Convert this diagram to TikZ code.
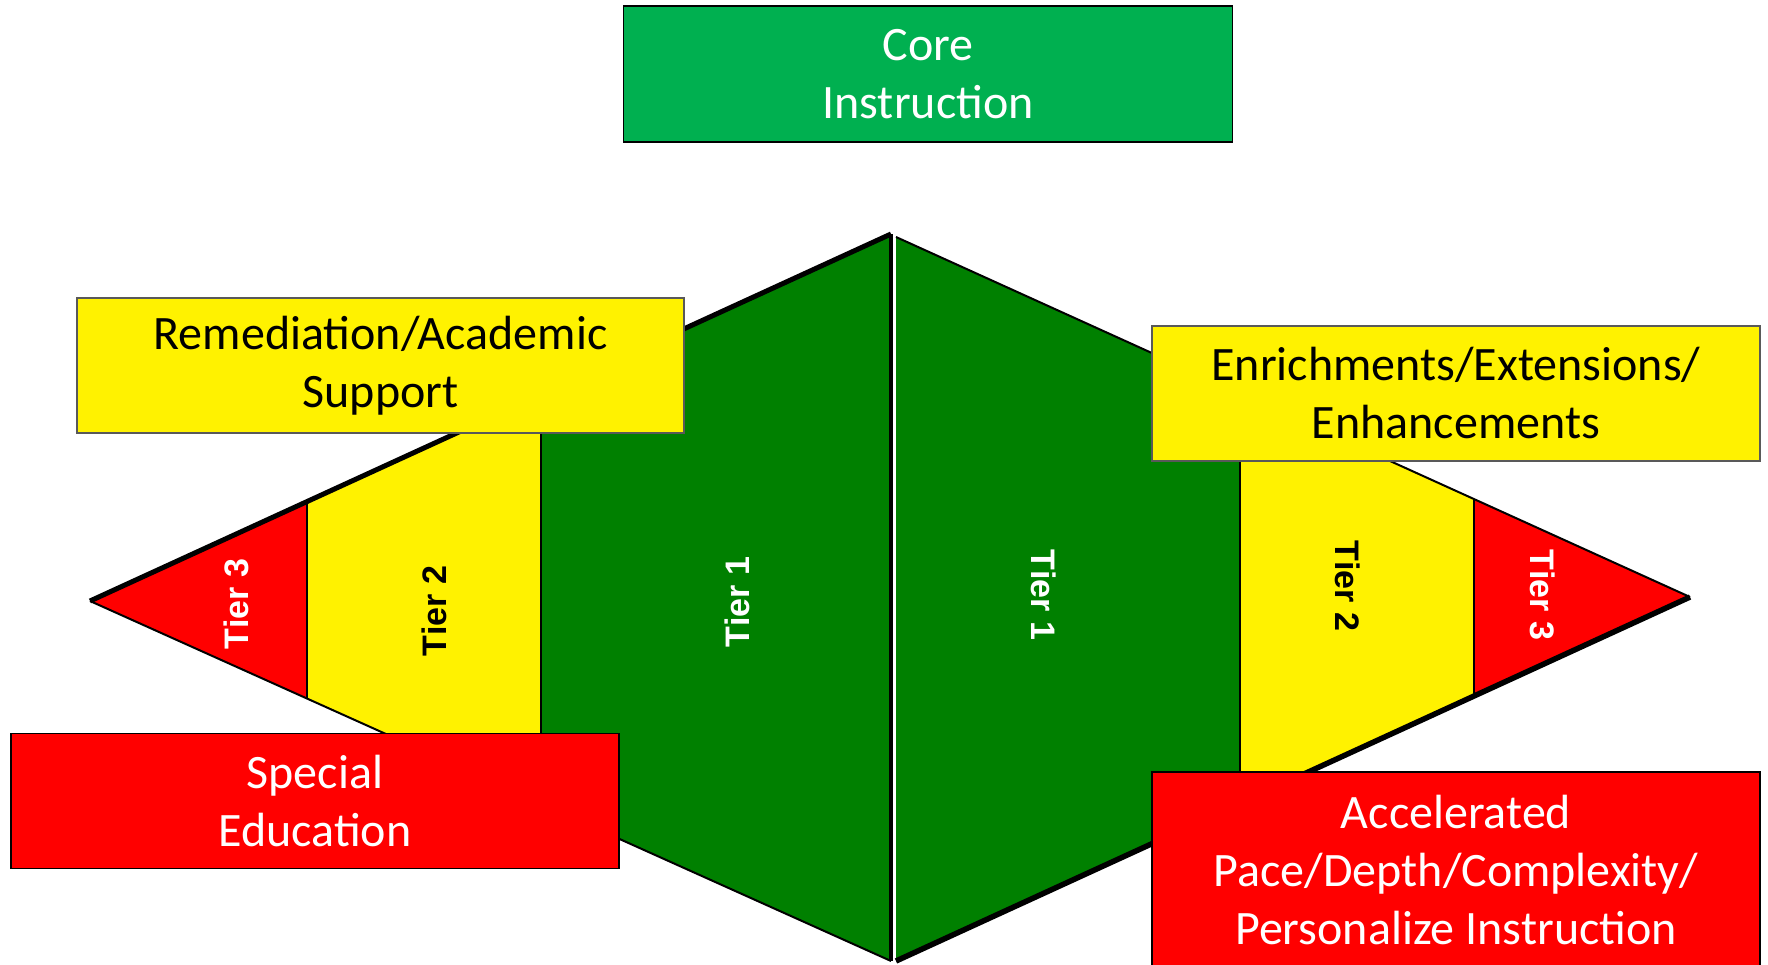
\documentclass[tikz,border=0pt]{standalone}
\usepackage{fontspec}
\setmainfont{Carlito}
\newfontfamily\tierfont{Liberation Sans}
\definecolor{coregreen}{HTML}{00B050}
\definecolor{tiergreen}{HTML}{008000}
\definecolor{boxgray}{HTML}{595959}
\tikzset{
  labelbox/.style={draw, line width=1.5pt, inner sep=0pt, align=center,
    font=\fontsize{48}{58}\selectfont, minimum width=608, minimum height=135},
  tier/.style={font=\tierfont\bfseries\fontsize{34}{40}\selectfont},
}
\begin{document}
\begin{tikzpicture}[x=1pt, y=-1pt]
\useasboundingbox (0,0) rectangle (1768,964);
% left half
\coordinate (ltip) at (90,601);
\coordinate (ltop) at (891,234);
\coordinate (lbot) at (891,961);
\begin{scope}
\clip (ltip)--(ltop)--(lbot)--cycle;
\fill[red] (0,0) rectangle (307,964);
\fill[yellow] (307,0) rectangle (541,964);
\fill[tiergreen] (541,0) rectangle (891,964);
\draw[line width=1.5pt] (307,0)--(307,964) (541,0)--(541,964);
\end{scope}
\draw[line width=2pt] (ltip)--(lbot);
\draw[line width=5pt, line join=round] (ltip)--(ltop);
\draw[line width=3.5pt] (ltop)--(lbot);
% right half
\coordinate (rtip) at (1690,597);
\coordinate (rtop) at (896,237);
\coordinate (rbot) at (896,961);
\begin{scope}
\clip (rtip)--(rtop)--(rbot)--cycle;
\fill[tiergreen] (896,0) rectangle (1240,964);
\fill[yellow] (1240,0) rectangle (1474,964);
\fill[red] (1474,0) rectangle (1768,964);
\draw[line width=1.5pt] (1240,0)--(1240,964) (1474,0)--(1474,964);
\end{scope}
\draw[line width=2pt] (rtop)--(rtip);
\draw[line width=5.5pt, line join=round] (rtip)--(rbot);
% tiers
\node[tier, white, rotate=90] (ltierc) at (236,604) {Tier 3};
\node[tier, rotate=90] (ltierb) at (434,611) {Tier 2};
\node[tier, white, rotate=90] (ltiera) at (737,602) {Tier 1};
\node[tier, white, rotate=-90] (rtiera) at (1044,595) {Tier 1};
\node[tier, rotate=-90] (rtierb) at (1348,586) {Tier 2};
\node[tier, white, rotate=-90] (rtierc) at (1543,595) {Tier 3};
% boxes
\node[labelbox, fill=coregreen, text=white, minimum width=609, minimum height=136] (core) at (928,74) {Core\\Instruction};
\node[labelbox, fill=yellow, draw=boxgray, minimum width=607] (remed) at (380.5,365.5) {Remediation/Academic\\Support};
\node[labelbox, fill=yellow, draw=boxgray] (enrich) at (1456,393.5) {Enrichments/Extensions/\\Enhancements};
\node[labelbox, fill=red, text=white] (sped) at (315,801) {Special\\Education};
\node[labelbox, fill=red, text=white, minimum height=196] (accel) at (1456,870) {Accelerated\\Pace/Depth/Complexity/\\Personalize Instruction};
\end{tikzpicture}
\end{document}
